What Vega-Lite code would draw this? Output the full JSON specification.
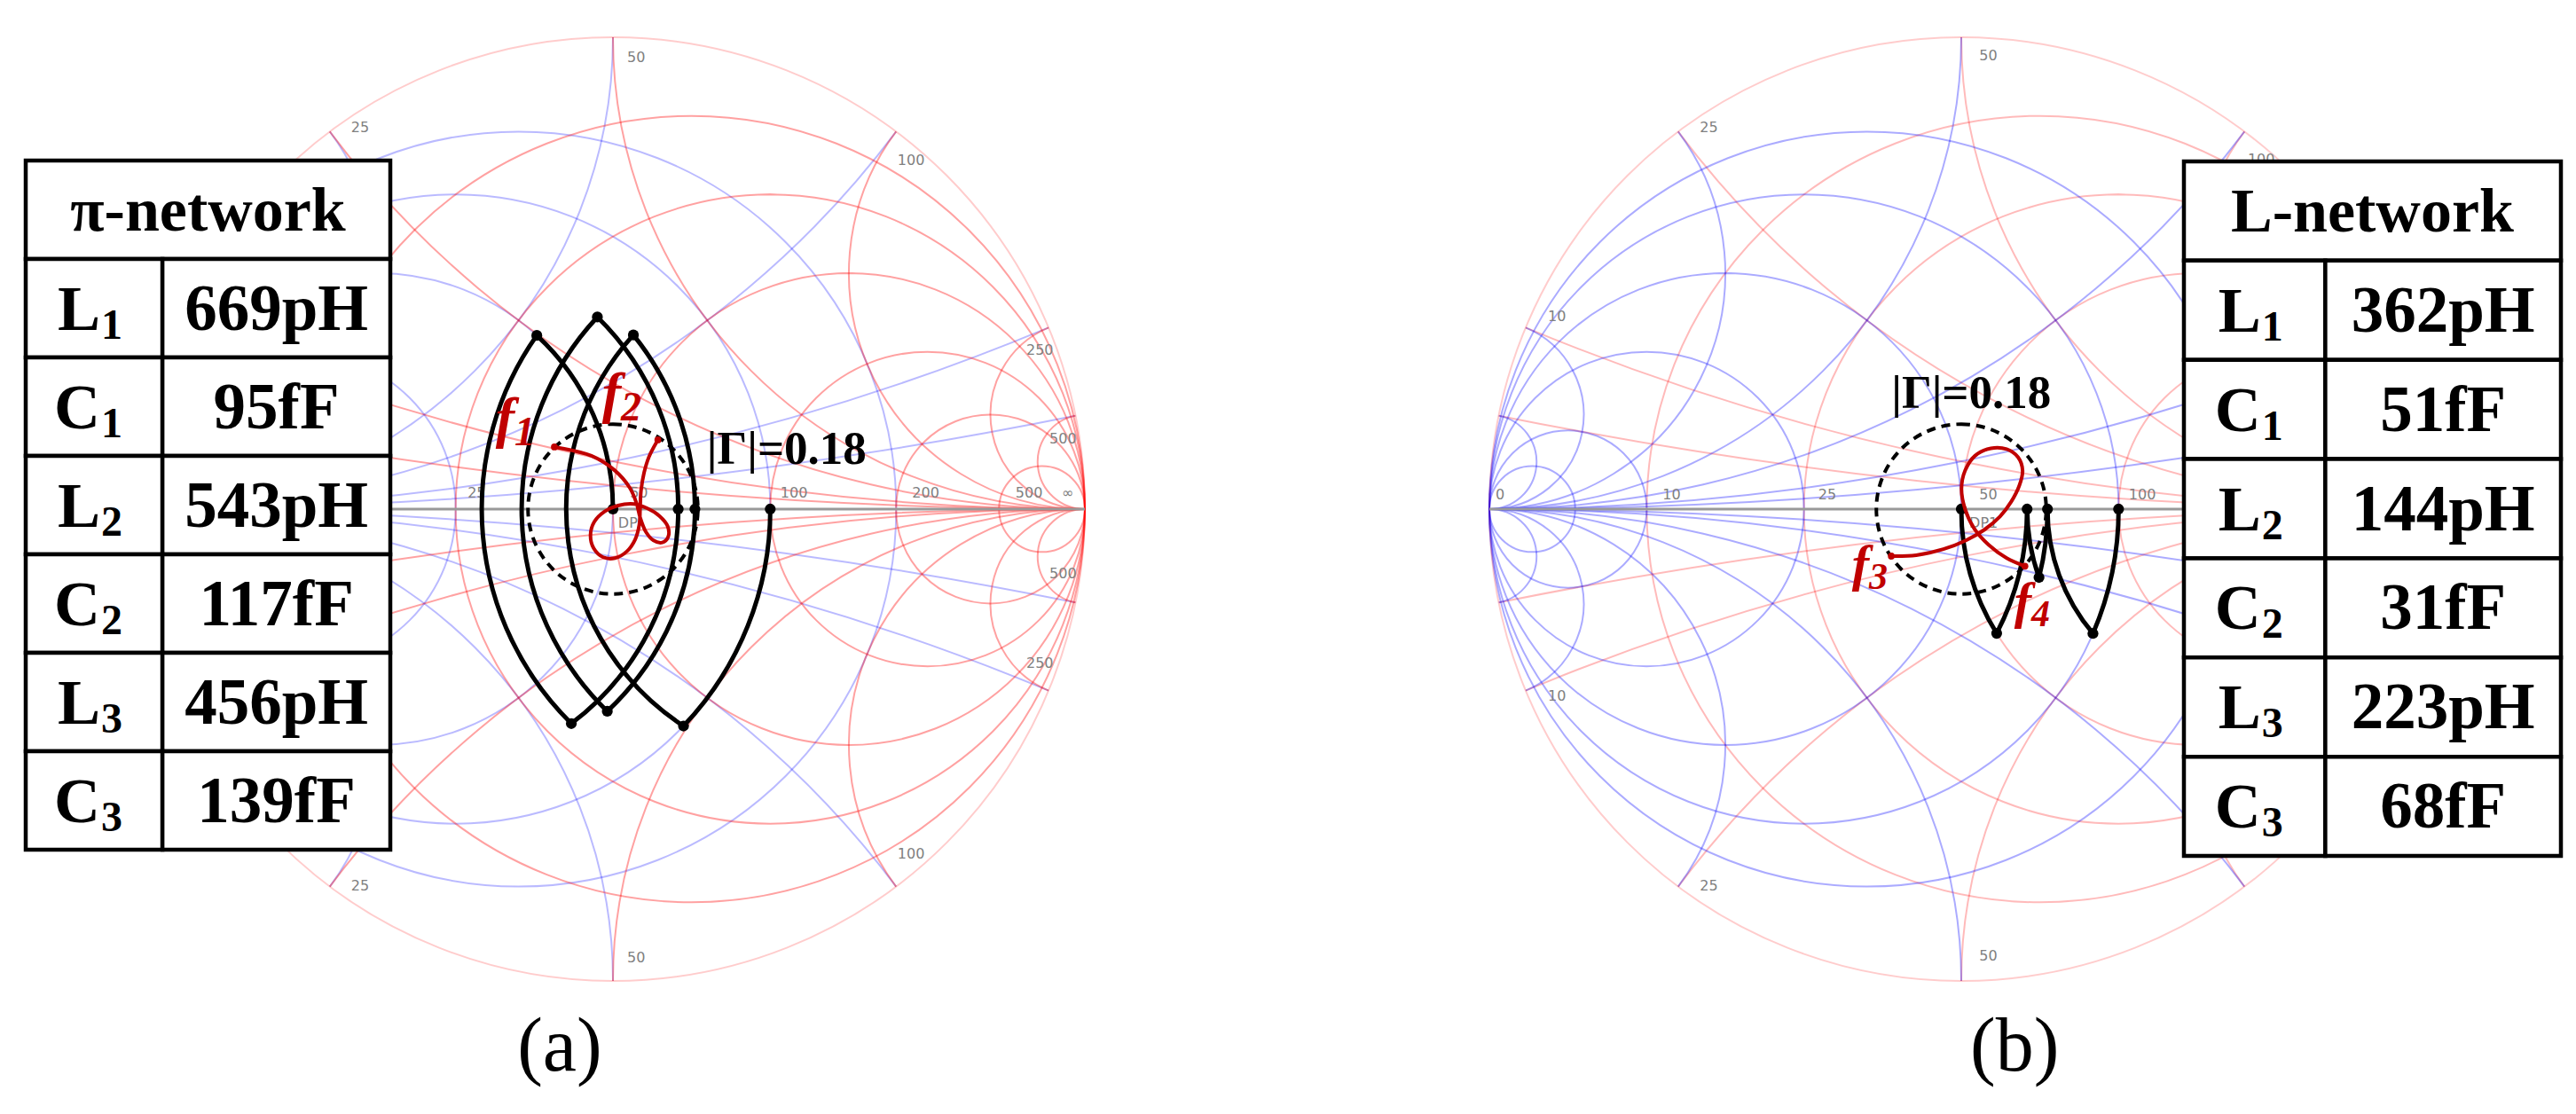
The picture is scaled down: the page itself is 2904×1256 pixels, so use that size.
{
"$schema":"https://vega.github.io/schema/vega-lite/v6.json",
"padding":0,
"spacing":0,
"background":"white",
"config":{"view":{"stroke":null}},
"datasets":{
"gridZ":[
{"u":0.1667,"v":0,"rad":0.8333,"t0":0,"t1":6.2832},
{"u":0.3333,"v":0,"rad":0.6667,"t0":0,"t1":6.2832},
{"u":0.5,"v":0,"rad":0.5,"t0":0,"t1":6.2832},
{"u":0.6667,"v":0,"rad":0.3333,"t0":0,"t1":6.2832},
{"u":0.8,"v":0,"rad":0.2,"t0":0,"t1":6.2832},
{"u":0.9091,"v":0,"rad":0.0909,"t0":0,"t1":6.2832},
{"u":1,"v":10,"rad":10,"t0":3.1416,"t1":3.3409},
{"u":1,"v":5,"rad":5,"t0":3.1416,"t1":3.5364},
{"u":1,"v":2,"rad":2,"t0":3.1416,"t1":4.0689},
{"u":1,"v":1,"rad":1,"t0":3.1416,"t1":4.7124},
{"u":1,"v":0.5,"rad":0.5,"t0":3.1416,"t1":5.3559},
{"u":1,"v":0.2,"rad":0.2,"t0":3.1416,"t1":5.8884},
{"u":1,"v":0.1,"rad":0.1,"t0":3.1416,"t1":6.0839},
{"u":1,"v":-10,"rad":10,"t0":6.0839,"t1":6.2832},
{"u":1,"v":-5,"rad":5,"t0":5.8884,"t1":6.2832},
{"u":1,"v":-2,"rad":2,"t0":5.3559,"t1":6.2832},
{"u":1,"v":-1,"rad":1,"t0":4.7124,"t1":6.2832},
{"u":1,"v":-0.5,"rad":0.5,"t0":4.0689,"t1":6.2832},
{"u":1,"v":-0.2,"rad":0.2,"t0":3.5364,"t1":6.2832},
{"u":1,"v":-0.1,"rad":0.1,"t0":3.3409,"t1":6.2832}
],
"gridY":[
{"u":-0.2,"v":0,"rad":0.8,"t0":0,"t1":6.2832},
{"u":-0.3333,"v":0,"rad":0.6667,"t0":0,"t1":6.2832},
{"u":-0.5,"v":0,"rad":0.5,"t0":0,"t1":6.2832},
{"u":-0.6667,"v":0,"rad":0.3333,"t0":0,"t1":6.2832},
{"u":-0.8333,"v":0,"rad":0.1667,"t0":0,"t1":6.2832},
{"u":-0.9091,"v":0,"rad":0.0909,"t0":0,"t1":6.2832},
{"u":-1,"v":10,"rad":10,"t0":2.9423,"t1":3.1416},
{"u":-1,"v":5,"rad":5,"t0":2.7468,"t1":3.1416},
{"u":-1,"v":2,"rad":2,"t0":2.2143,"t1":3.1416},
{"u":-1,"v":1,"rad":1,"t0":1.5708,"t1":3.1416},
{"u":-1,"v":0.5,"rad":0.5,"t0":0.9273,"t1":3.1416},
{"u":-1,"v":0.2,"rad":0.2,"t0":0.3948,"t1":3.1416},
{"u":-1,"v":0.1,"rad":0.1,"t0":0.1993,"t1":3.1416},
{"u":-1,"v":-10,"rad":10,"t0":0,"t1":0.1993},
{"u":-1,"v":-5,"rad":5,"t0":0,"t1":0.3948},
{"u":-1,"v":-2,"rad":2,"t0":0,"t1":0.9273},
{"u":-1,"v":-1,"rad":1,"t0":0,"t1":1.5708},
{"u":-1,"v":-0.5,"rad":0.5,"t0":0,"t1":2.2143},
{"u":-1,"v":-0.2,"rad":0.2,"t0":0,"t1":2.7468},
{"u":-1,"v":-0.1,"rad":0.1,"t0":0,"t1":2.9423}
],
"rim":[{"u":0,"v":0,"rad":1,"t0":0,"t1":6.2832}],
"gam":[{"u":0,"v":0,"rad":0.18,"t0":0,"t1":6.2832}],
"axisline":[{"u":-1,"u2":1,"v":0}],
"pathA":[
{"u":-0.3333,"v":0,"rad":0.6667,"t0":1.5708,"t1":2.3317},
{"u":0.4505,"v":0,"rad":0.5495,"t0":3.7213,"t1":5.4487},
{"u":-0.4131,"v":0,"rad":0.5869,"t0":0.8907,"t1":2.389},
{"u":0.4033,"v":0,"rad":0.5967,"t0":3.9113,"t1":5.4629},
{"u":-0.4308,"v":0,"rad":0.5692,"t0":0.774,"t1":2.4958},
{"u":0.361,"v":0,"rad":0.639,"t0":3.9211,"t1":5.3262},
{"u":-0.5,"v":0,"rad":0.5,"t0":0.7437,"t1":1.5708}
],
"dotsA":[
{"u":0.3333,"v":0},{"u":0.1495,"v":-0.4597},{"u":0.0433,"v":0.369},{"u":0.1737,"v":0},
{"u":-0.012,"v":-0.4285},{"u":-0.033,"v":0.407},{"u":0.1383,"v":0},{"u":-0.0882,"v":-0.4545},
{"u":-0.1614,"v":0.368},{"u":0,"v":0}
],
"pathB":[
{"u":-0.3333,"v":0,"rad":0.6667,"t0":1.5708,"t1":1.9773},
{"u":0.5913,"v":0,"rad":0.4087,"t0":4.0114,"t1":4.7124},
{"u":-0.4086,"v":0,"rad":0.5914,"t0":1.5708,"t1":1.8178},
{"u":0.5698,"v":0,"rad":0.4302,"t0":4.3687,"t1":4.7124},
{"u":-0.4303,"v":0,"rad":0.5697,"t0":1.5708,"t1":2.0513},
{"u":0.5,"v":0,"rad":0.5,"t0":4.1579,"t1":4.7124}
],
"dotsB":[
{"u":0.3333,"v":0},{"u":0.279,"v":-0.2636},{"u":0.1827,"v":0},{"u":0.1647,"v":-0.1448},
{"u":0.1395,"v":0},{"u":0.075,"v":-0.2634},{"u":0,"v":0}
],
"redA":[
{"i":1,"u":-0.1241,"v":0.1316},{"i":2,"u":-0.0457,"v":0.1128},{"i":3,"u":0.0044,"v":0.0815},
{"i":4,"u":0.0357,"v":0.0451},{"i":5,"u":0.0495,"v":0.0138},{"i":6,"u":0.0576,"v":-0.0175},
{"i":7,"u":0.0702,"v":-0.0489},{"i":8,"u":0.0858,"v":-0.0664},{"i":9,"u":0.1046,"v":-0.0708},
{"i":10,"u":0.1172,"v":-0.0583},{"i":11,"u":0.1159,"v":-0.0363},{"i":12,"u":0.0984,"v":-0.0144},
{"i":13,"u":0.0733,"v":0.0013},{"i":14,"u":0.0451,"v":0.0107},{"i":15,"u":0.0107,"v":0.0075},
{"i":16,"u":-0.0175,"v":-0.005},{"i":17,"u":-0.0395,"v":-0.0269},{"i":18,"u":-0.0476,"v":-0.0551},
{"i":19,"u":-0.0407,"v":-0.0833},{"i":20,"u":-0.0207,"v":-0.1021},{"i":21,"u":0.0044,"v":-0.104},
{"i":22,"u":0.0295,"v":-0.0896},{"i":23,"u":0.047,"v":-0.0645},{"i":24,"u":0.0558,"v":-0.0332},
{"i":25,"u":0.0576,"v":0.0013},{"i":26,"u":0.0595,"v":0.0389},{"i":27,"u":0.0658,"v":0.0764},
{"i":28,"u":0.0764,"v":0.1109},{"i":29,"u":0.0952,"v":0.1466}
],
"redB":[
{"i":1,"u":-0.1483,"v":-0.0995},{"i":2,"u":-0.0955,"v":-0.0976},{"i":3,"u":-0.038,"v":-0.085},
{"i":4,"u":0.01,"v":-0.0662},{"i":5,"u":0.0483,"v":-0.0442},{"i":6,"u":0.082,"v":-0.0158},
{"i":7,"u":0.1058,"v":0.0156},{"i":8,"u":0.1231,"v":0.0502},{"i":9,"u":0.1299,"v":0.0816},
{"i":10,"u":0.1203,"v":0.1098},{"i":11,"u":0.0962,"v":0.1269},{"i":12,"u":0.0628,"v":0.1288},
{"i":13,"u":0.0291,"v":0.113},{"i":14,"u":0.0081,"v":0.0816},{"i":15,"u":0.0004,"v":0.0438},
{"i":16,"u":0.0081,"v":-0.0002},{"i":17,"u":0.0273,"v":-0.041},{"i":18,"u":0.0579,"v":-0.0756},
{"i":19,"u":0.0962,"v":-0.1039},{"i":20,"u":0.1348,"v":-0.1209}
],
"endsA":[{"u":-0.1241,"v":0.1316},{"u":0.0952,"v":0.1466}],
"endsB":[{"u":-0.1483,"v":-0.0995},{"u":0.1348,"v":-0.1209}],
"glabA":[
{"u":0.03,"v":0.957,"t":"50"},{"u":0.03,"v":-0.951,"t":"50"},
{"u":-0.555,"v":0.808,"t":"25"},{"u":-0.555,"v":-0.799,"t":"25"},
{"u":0.603,"v":0.739,"t":"100"},{"u":0.603,"v":-0.731,"t":"100"},
{"u":0.876,"v":0.336,"t":"250"},{"u":0.876,"v":-0.327,"t":"250"},
{"u":0.925,"v":0.148,"t":"500"},{"u":0.925,"v":-0.137,"t":"500"},
{"u":-0.308,"v":0.034,"t":"25"},{"u":0.036,"v":0.034,"t":"50"},{"u":0.355,"v":0.034,"t":"100"},
{"u":0.634,"v":0.034,"t":"200"},{"u":0.853,"v":0.034,"t":"500"},{"u":0.951,"v":0.034,"t":"∞"},
{"u":0.011,"v":-0.03,"t":"DP"}
],
"glabB":[
{"u":0.038,"v":0.96,"t":"50"},{"u":0.038,"v":-0.947,"t":"50"},
{"u":-0.554,"v":0.808,"t":"25"},{"u":-0.554,"v":-0.799,"t":"25"},
{"u":-0.876,"v":0.407,"t":"10"},{"u":-0.876,"v":-0.397,"t":"10"},
{"u":0.607,"v":0.741,"t":"100"},{"u":0.607,"v":-0.73,"t":"100"},
{"u":-0.987,"v":0.03,"t":"0"},{"u":-0.633,"v":0.03,"t":"10"},{"u":-0.303,"v":0.03,"t":"25"},
{"u":0.038,"v":0.03,"t":"50"},{"u":0.355,"v":0.03,"t":"100"},
{"u":0.017,"v":-0.03,"t":"DP1"}
],
"gamA":[{"u":0.199,"v":0.096,"t":"|Γ|=0.18"}],
"gamB":[{"u":-0.148,"v":0.215,"t":"|Γ|=0.18"}],
"fA":[{"u":-0.2086,"v":0.1541,"f":"f","n":"1"},{"u":0.0169,"v":0.2068,"f":"f","n":"2"}],
"fB":[{"u":-0.1955,"v":-0.152,"f":"f","n":"3"},{"u":0.1485,"v":-0.231,"f":"f","n":"4"}],
"capA":[{"u":-0.113,"v":-1.19,"t":"(a)"}],
"capB":[{"u":0.113,"v":-1.19,"t":"(b)"}],
"cells":[
{"c0":0,"c1":8,"r0":0,"r1":1},
{"c0":0,"c1":3,"r0":1,"r1":2},{"c0":3,"c1":8,"r0":1,"r1":2},
{"c0":0,"c1":3,"r0":2,"r1":3},{"c0":3,"c1":8,"r0":2,"r1":3},
{"c0":0,"c1":3,"r0":3,"r1":4},{"c0":3,"c1":8,"r0":3,"r1":4},
{"c0":0,"c1":3,"r0":4,"r1":5},{"c0":3,"c1":8,"r0":4,"r1":5},
{"c0":0,"c1":3,"r0":5,"r1":6},{"c0":3,"c1":8,"r0":5,"r1":6},
{"c0":0,"c1":3,"r0":6,"r1":7},{"c0":3,"c1":8,"r0":6,"r1":7}
],
"sym":[
{"xm":1.5,"ym":1.5,"s":"L","n":"1"},{"xm":1.5,"ym":2.5,"s":"C","n":"1"},
{"xm":1.5,"ym":3.5,"s":"L","n":"2"},{"xm":1.5,"ym":4.5,"s":"C","n":"2"},
{"xm":1.5,"ym":5.5,"s":"L","n":"3"},{"xm":1.5,"ym":6.5,"s":"C","n":"3"}
],
"headA":[{"xm":4,"ym":0.5,"t":"π-network"}],
"headB":[{"xm":4,"ym":0.5,"t":"L-network"}],
"textA":[
{"xm":5.5,"ym":1.5,"t":"669pH"},{"xm":5.5,"ym":2.5,"t":"95fF"},
{"xm":5.5,"ym":3.5,"t":"543pH"},{"xm":5.5,"ym":4.5,"t":"117fF"},{"xm":5.5,"ym":5.5,"t":"456pH"},
{"xm":5.5,"ym":6.5,"t":"139fF"}
],
"textB":[
{"xm":5.5,"ym":1.5,"t":"362pH"},{"xm":5.5,"ym":2.5,"t":"51fF"},
{"xm":5.5,"ym":3.5,"t":"144pH"},{"xm":5.5,"ym":4.5,"t":"31fF"},{"xm":5.5,"ym":5.5,"t":"223pH"},
{"xm":5.5,"ym":6.5,"t":"68fF"}
]
},
"hconcat":[
{
"width":1452,"height":1256,
"resolve":{"scale":{"x":"independent","y":"independent"}},
"layer":[
{
"encoding":{
"x":{"field":"u","type":"quantitative","scale":{"domain":[-1.2989,1.4305],"nice":false,"zero":false},"axis":null},
"y":{"field":"v","type":"quantitative","scale":{"domain":[-1.282,1.0789],"nice":false,"zero":false},"axis":null}
},
"layer":[
{"data":{"name":"gridY"},"mark":{"type":"arc","filled":false,"stroke":"#0000ff","strokeOpacity":0.27,"strokeWidth":2},
"encoding":{"radius":{"field":"rad","type":"quantitative","scale":{"type":"linear","domain":[0,1],"range":[0,532],"zero":true}},"radius2":{"field":"rad"},"theta":{"field":"t0","type":"quantitative","scale":null,"stack":null},"theta2":{"field":"t1"}}},
{"data":{"name":"gridZ"},"mark":{"type":"arc","filled":false,"stroke":"#ff0000","strokeOpacity":0.37,"strokeWidth":2},
"encoding":{"radius":{"field":"rad","type":"quantitative","scale":{"type":"linear","domain":[0,1],"range":[0,532],"zero":true}},"radius2":{"field":"rad"},"theta":{"field":"t0","type":"quantitative","scale":null,"stack":null},"theta2":{"field":"t1"}}},
{"data":{"name":"rim"},"mark":{"type":"arc","filled":false,"stroke":"#ff0000","strokeOpacity":0.2,"strokeWidth":2},
"encoding":{"radius":{"field":"rad","type":"quantitative","scale":{"type":"linear","domain":[0,1],"range":[0,532],"zero":true}},"theta":{"field":"t0","type":"quantitative","scale":null,"stack":null},"theta2":{"field":"t1"}}},
{"data":{"name":"axisline"},"mark":{"type":"rule","stroke":"#999999","strokeWidth":3},"encoding":{"x2":{"field":"u2"}}},
{"data":{"name":"glabA"},"mark":{"type":"text","align":"left","baseline":"middle","font":"DejaVu Sans","fontSize":16,"color":"#808080"},"encoding":{"text":{"field":"t"}}},
{"data":{"name":"gam"},"mark":{"type":"arc","filled":false,"stroke":"black","strokeWidth":4,"strokeDash":[10,7]},
"encoding":{"radius":{"field":"rad","type":"quantitative","scale":{"type":"linear","domain":[0,1],"range":[0,532],"zero":true}},"theta":{"field":"t0","type":"quantitative","scale":null,"stack":null},"theta2":{"field":"t1"}}},
{"data":{"name":"pathA"},"mark":{"type":"arc","filled":false,"stroke":"black","strokeWidth":5},
"encoding":{"radius":{"field":"rad","type":"quantitative","scale":{"type":"linear","domain":[0,1],"range":[0,532],"zero":true}},"radius2":{"field":"rad"},"theta":{"field":"t0","type":"quantitative","scale":null,"stack":null},"theta2":{"field":"t1"}}},
{"data":{"name":"dotsA"},"mark":{"type":"point","filled":true,"size":150,"color":"black","opacity":1}},
{"data":{"name":"redA"},"mark":{"type":"line","color":"#c00000","strokeWidth":4,"interpolate":"catmull-rom"},"encoding":{"order":{"field":"i","type":"quantitative"}}},
{"data":{"name":"endsA"},"mark":{"type":"point","filled":true,"size":60,"color":"#c00000","opacity":1}},
{"data":{"name":"gamA"},"mark":{"type":"text","align":"left","baseline":"alphabetic","font":"Liberation Serif","fontWeight":"bold","fontSize":53,"color":"black"},"encoding":{"text":{"field":"t"}}},
{"data":{"name":"fA"},"mark":{"type":"text","align":"right","baseline":"alphabetic","font":"Liberation Serif","fontStyle":"italic","fontWeight":"bold","fontSize":64,"color":"#c00000"},"encoding":{"text":{"field":"f"}}},
{"data":{"name":"fA"},"mark":{"type":"text","align":"left","baseline":"alphabetic","dy":10,"font":"Liberation Serif","fontStyle":"italic","fontWeight":"bold","fontSize":46,"color":"#c00000"},"encoding":{"text":{"field":"n"}}},
{"data":{"name":"capA"},"mark":{"type":"text","align":"center","baseline":"alphabetic","font":"Liberation Serif","fontSize":86,"color":"black"},"encoding":{"text":{"field":"t"}}}
]
},
{
"layer":[
{"data":{"name":"cells"},"mark":{"type":"rect","fill":"white","stroke":"black","strokeWidth":4.5},
"encoding":{
"x":{"field":"c0","type":"quantitative","scale":{"domain":[0,8],"range":[29,440],"nice":false,"zero":false},"axis":null},
"x2":{"field":"c1"},
"y":{"field":"r0","type":"quantitative","scale":{"domain":[0,7],"range":[181,958],"nice":false,"zero":false},"axis":null},
"y2":{"field":"r1"}}},
{"data":{"name":"headA"},"mark":{"type":"text","align":"center","baseline":"alphabetic","dy":23,"font":"Liberation Serif","fontWeight":"bold","fontSize":70,"color":"black"},
"encoding":{
"x":{"field":"xm","type":"quantitative","scale":{"domain":[0,8],"range":[29,440],"nice":false,"zero":false},"axis":null},
"y":{"field":"ym","type":"quantitative","scale":{"domain":[0,7],"range":[181,958],"nice":false,"zero":false},"axis":null},
"text":{"field":"t"}}},
{"data":{"name":"textA"},"mark":{"type":"text","align":"center","baseline":"alphabetic","dy":24,"font":"Liberation Serif","fontWeight":"bold","fontSize":73,"color":"black"},
"encoding":{
"x":{"field":"xm","type":"quantitative","scale":{"domain":[0,8],"range":[29,440],"nice":false,"zero":false},"axis":null},
"y":{"field":"ym","type":"quantitative","scale":{"domain":[0,7],"range":[181,958],"nice":false,"zero":false},"axis":null},
"text":{"field":"t"}}},
{"data":{"name":"sym"},"mark":{"type":"text","align":"right","baseline":"alphabetic","dx":7,"dy":24,"font":"Liberation Serif","fontWeight":"bold","fontSize":72,"color":"black"},
"encoding":{
"x":{"field":"xm","type":"quantitative","scale":{"domain":[0,8],"range":[29,440],"nice":false,"zero":false},"axis":null},
"y":{"field":"ym","type":"quantitative","scale":{"domain":[0,7],"range":[181,958],"nice":false,"zero":false},"axis":null},
"text":{"field":"s"}}},
{"data":{"name":"sym"},"mark":{"type":"text","align":"left","baseline":"alphabetic","dx":8,"dy":34,"font":"Liberation Serif","fontWeight":"bold","fontSize":48,"color":"black"},
"encoding":{
"x":{"field":"xm","type":"quantitative","scale":{"domain":[0,8],"range":[29,440],"nice":false,"zero":false},"axis":null},
"y":{"field":"ym","type":"quantitative","scale":{"domain":[0,7],"range":[181,958],"nice":false,"zero":false},"axis":null},
"text":{"field":"n"}}}
]
}
]
},
{
"width":1452,"height":1256,
"resolve":{"scale":{"x":"independent","y":"independent"}},
"layer":[
{
"encoding":{
"x":{"field":"u","type":"quantitative","scale":{"domain":[-1.4267,1.3026],"nice":false,"zero":false},"axis":null},
"y":{"field":"v","type":"quantitative","scale":{"domain":[-1.282,1.0789],"nice":false,"zero":false},"axis":null}
},
"layer":[
{"data":{"name":"gridZ"},"mark":{"type":"arc","filled":false,"stroke":"#ff0000","strokeOpacity":0.27,"strokeWidth":2},
"encoding":{"radius":{"field":"rad","type":"quantitative","scale":{"type":"linear","domain":[0,1],"range":[0,532],"zero":true}},"radius2":{"field":"rad"},"theta":{"field":"t0","type":"quantitative","scale":null,"stack":null},"theta2":{"field":"t1"}}},
{"data":{"name":"gridY"},"mark":{"type":"arc","filled":false,"stroke":"#0000ff","strokeOpacity":0.33,"strokeWidth":2},
"encoding":{"radius":{"field":"rad","type":"quantitative","scale":{"type":"linear","domain":[0,1],"range":[0,532],"zero":true}},"radius2":{"field":"rad"},"theta":{"field":"t0","type":"quantitative","scale":null,"stack":null},"theta2":{"field":"t1"}}},
{"data":{"name":"rim"},"mark":{"type":"arc","filled":false,"stroke":"#ff0000","strokeOpacity":0.2,"strokeWidth":2},
"encoding":{"radius":{"field":"rad","type":"quantitative","scale":{"type":"linear","domain":[0,1],"range":[0,532],"zero":true}},"theta":{"field":"t0","type":"quantitative","scale":null,"stack":null},"theta2":{"field":"t1"}}},
{"data":{"name":"axisline"},"mark":{"type":"rule","stroke":"#999999","strokeWidth":3},"encoding":{"x2":{"field":"u2"}}},
{"data":{"name":"glabB"},"mark":{"type":"text","align":"left","baseline":"middle","font":"DejaVu Sans","fontSize":16,"color":"#808080"},"encoding":{"text":{"field":"t"}}},
{"data":{"name":"gam"},"mark":{"type":"arc","filled":false,"stroke":"black","strokeWidth":4,"strokeDash":[10,7]},
"encoding":{"radius":{"field":"rad","type":"quantitative","scale":{"type":"linear","domain":[0,1],"range":[0,532],"zero":true}},"theta":{"field":"t0","type":"quantitative","scale":null,"stack":null},"theta2":{"field":"t1"}}},
{"data":{"name":"pathB"},"mark":{"type":"arc","filled":false,"stroke":"black","strokeWidth":5},
"encoding":{"radius":{"field":"rad","type":"quantitative","scale":{"type":"linear","domain":[0,1],"range":[0,532],"zero":true}},"radius2":{"field":"rad"},"theta":{"field":"t0","type":"quantitative","scale":null,"stack":null},"theta2":{"field":"t1"}}},
{"data":{"name":"dotsB"},"mark":{"type":"point","filled":true,"size":150,"color":"black","opacity":1}},
{"data":{"name":"redB"},"mark":{"type":"line","color":"#c00000","strokeWidth":4,"interpolate":"catmull-rom"},"encoding":{"order":{"field":"i","type":"quantitative"}}},
{"data":{"name":"endsB"},"mark":{"type":"point","filled":true,"size":60,"color":"#c00000","opacity":1}},
{"data":{"name":"gamB"},"mark":{"type":"text","align":"left","baseline":"alphabetic","font":"Liberation Serif","fontWeight":"bold","fontSize":53,"color":"black"},"encoding":{"text":{"field":"t"}}},
{"data":{"name":"fB"},"mark":{"type":"text","align":"right","baseline":"alphabetic","font":"Liberation Serif","fontStyle":"italic","fontWeight":"bold","fontSize":58,"color":"#c00000"},"encoding":{"text":{"field":"f"}}},
{"data":{"name":"fB"},"mark":{"type":"text","align":"left","baseline":"alphabetic","dy":9,"font":"Liberation Serif","fontStyle":"italic","fontWeight":"bold","fontSize":42,"color":"#c00000"},"encoding":{"text":{"field":"n"}}},
{"data":{"name":"capB"},"mark":{"type":"text","align":"center","baseline":"alphabetic","font":"Liberation Serif","fontSize":86,"color":"black"},"encoding":{"text":{"field":"t"}}}
]
},
{
"layer":[
{"data":{"name":"cells"},"mark":{"type":"rect","fill":"white","stroke":"black","strokeWidth":4.5},
"encoding":{
"x":{"field":"c0","type":"quantitative","scale":{"domain":[0,8],"range":[1010,1435],"nice":false,"zero":false},"axis":null},
"x2":{"field":"c1"},
"y":{"field":"r0","type":"quantitative","scale":{"domain":[0,7],"range":[182,965],"nice":false,"zero":false},"axis":null},
"y2":{"field":"r1"}}},
{"data":{"name":"headB"},"mark":{"type":"text","align":"center","baseline":"alphabetic","dy":23,"font":"Liberation Serif","fontWeight":"bold","fontSize":70,"color":"black"},
"encoding":{
"x":{"field":"xm","type":"quantitative","scale":{"domain":[0,8],"range":[1010,1435],"nice":false,"zero":false},"axis":null},
"y":{"field":"ym","type":"quantitative","scale":{"domain":[0,7],"range":[182,965],"nice":false,"zero":false},"axis":null},
"text":{"field":"t"}}},
{"data":{"name":"textB"},"mark":{"type":"text","align":"center","baseline":"alphabetic","dy":24,"font":"Liberation Serif","fontWeight":"bold","fontSize":73,"color":"black"},
"encoding":{
"x":{"field":"xm","type":"quantitative","scale":{"domain":[0,8],"range":[1010,1435],"nice":false,"zero":false},"axis":null},
"y":{"field":"ym","type":"quantitative","scale":{"domain":[0,7],"range":[182,965],"nice":false,"zero":false},"axis":null},
"text":{"field":"t"}}},
{"data":{"name":"sym"},"mark":{"type":"text","align":"right","baseline":"alphabetic","dx":7,"dy":24,"font":"Liberation Serif","fontWeight":"bold","fontSize":72,"color":"black"},
"encoding":{
"x":{"field":"xm","type":"quantitative","scale":{"domain":[0,8],"range":[1010,1435],"nice":false,"zero":false},"axis":null},
"y":{"field":"ym","type":"quantitative","scale":{"domain":[0,7],"range":[182,965],"nice":false,"zero":false},"axis":null},
"text":{"field":"s"}}},
{"data":{"name":"sym"},"mark":{"type":"text","align":"left","baseline":"alphabetic","dx":8,"dy":34,"font":"Liberation Serif","fontWeight":"bold","fontSize":48,"color":"black"},
"encoding":{
"x":{"field":"xm","type":"quantitative","scale":{"domain":[0,8],"range":[1010,1435],"nice":false,"zero":false},"axis":null},
"y":{"field":"ym","type":"quantitative","scale":{"domain":[0,7],"range":[182,965],"nice":false,"zero":false},"axis":null},
"text":{"field":"n"}}}
]
}
]
}
]
}
